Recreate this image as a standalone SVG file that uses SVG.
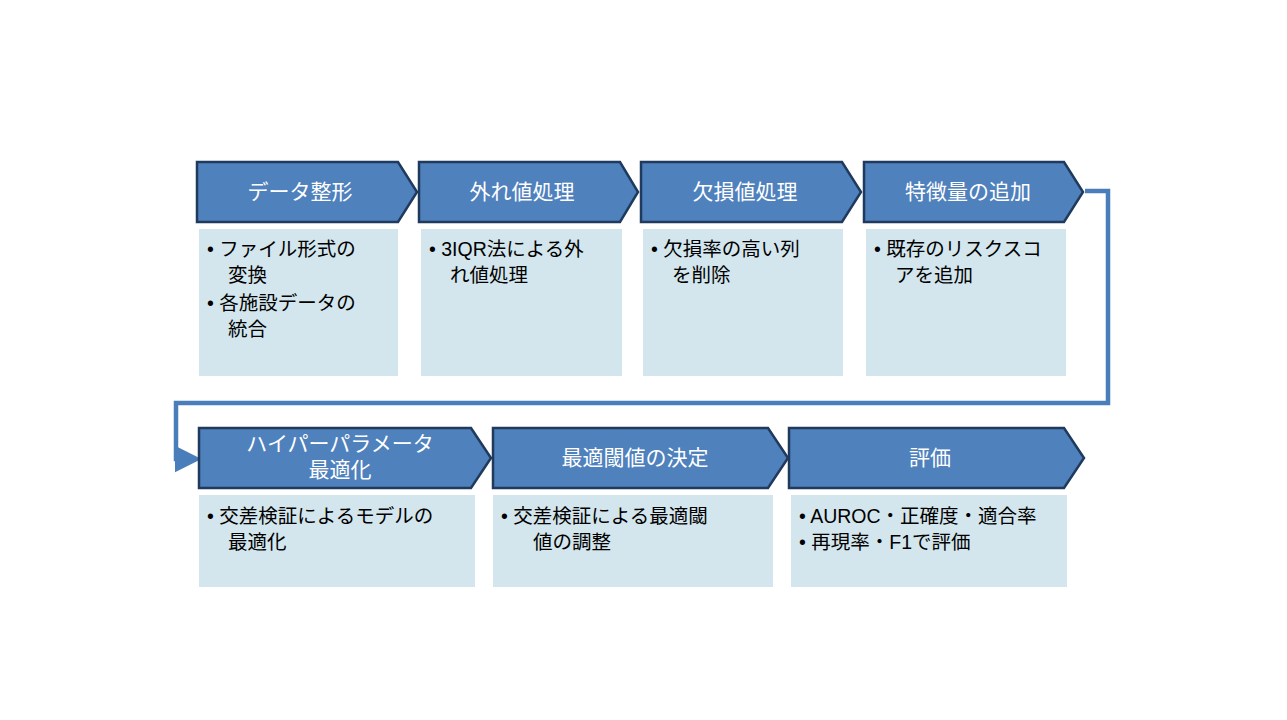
<svg xmlns="http://www.w3.org/2000/svg" width="1287" height="720" viewBox="0 0 1287 720">
<defs>
<style>
.ch{fill:#4f81bd;stroke:#203a5e;stroke-width:2.5}
.bx{fill:#d3e6ed}
.ht{font-family:"Liberation Sans","Noto Sans CJK JP",sans-serif;font-size:21px;fill:#fff;text-anchor:middle}
.bt{font-family:"Liberation Sans","Noto Sans CJK JP",sans-serif;font-size:19.5px;fill:#000}
.cn{fill:none;stroke:#4a7ebb;stroke-width:4.5}
</style>
<marker id="ar" markerWidth="6" markerHeight="6" refX="3" refY="3" orient="auto" markerUnits="strokeWidth"><path d="M0,0L6,3L0,6z" fill="#4a7ebb"/></marker>
</defs>
<rect width="1287" height="720" fill="#fff"/>
<g id="connectors"><path class="cn" d="M1085,191H1108V403H176V459H188" marker-end="url(#ar)"/></g>
<g id="n1"><path class="ch" d="M197,162H398L417,192L398,222H197Z"/><text class="ht" x="300" y="199">データ整形</text>
<rect class="bx" x="199" y="229" width="199" height="147"/><text class="bt"><tspan x="207" y="256">•  ファイル形式の</tspan><tspan x="228" y="282">変換</tspan><tspan x="207" y="310">•  各施設データの</tspan><tspan x="228" y="336">統合</tspan></text></g>
<g id="n2"><path class="ch" d="M419,162H620L638,192L620,222H419Z"/><text class="ht" x="522" y="199">外れ値処理</text>
<rect class="bx" x="421" y="229" width="201" height="147"/><text class="bt"><tspan x="429" y="256">•  3IQR法による外</tspan><tspan x="450" y="282">れ値処理</tspan></text></g>
<g id="n3"><path class="ch" d="M641,162H842L861,192L842,222H641Z"/><text class="ht" x="745" y="199">欠損値処理</text>
<rect class="bx" x="643" y="229" width="200" height="147"/><text class="bt"><tspan x="651" y="256">•  欠損率の高い列</tspan><tspan x="672" y="282">を削除</tspan></text></g>
<g id="n4"><path class="ch" d="M864,162H1064L1083,192L1064,222H864Z"/><text class="ht" x="968" y="199">特徴量の追加</text>
<rect class="bx" x="866" y="229" width="200" height="147"/><text class="bt"><tspan x="874" y="256">•  既存のリスクスコ</tspan><tspan x="895" y="282">アを追加</tspan></text></g>
<g id="n5"><path class="ch" d="M199,428H471L491,458L471,488H199Z"/><text class="ht" x="340" y="451">ハイパーパラメータ</text><text class="ht" x="340" y="477">最適化</text>
<rect class="bx" x="199" y="495" width="276" height="92"/><text class="bt"><tspan x="207" y="523">•  交差検証によるモデルの</tspan><tspan x="228" y="549">最適化</tspan></text></g>
<g id="n6"><path class="ch" d="M493,428H768L788,458L768,488H493Z"/><text class="ht" x="635" y="465">最適閾値の決定</text>
<rect class="bx" x="493" y="495" width="280" height="92"/><text class="bt"><tspan x="501" y="523">•    交差検証による最適閾</tspan><tspan x="533" y="549">値の調整</tspan></text></g>
<g id="n7"><path class="ch" d="M789,428H1064L1084,458L1064,488H789Z"/><text class="ht" x="930" y="465">評価</text>
<rect class="bx" x="791" y="495" width="276" height="92"/><text class="bt"><tspan x="799" y="523">•  AUROC・正確度・適合率</tspan><tspan x="799" y="549">•  再現率・F1で評価</tspan></text></g>
</svg>
